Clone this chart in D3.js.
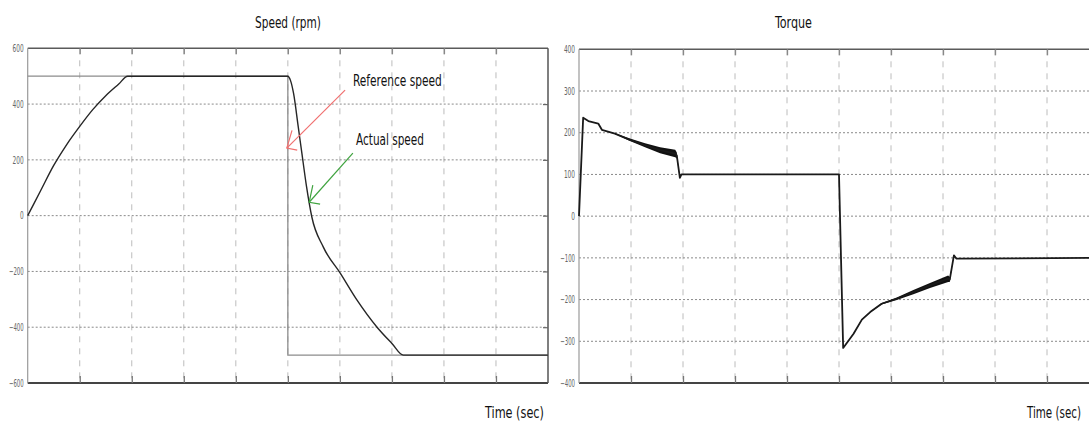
<!DOCTYPE html>
<html>
<head>
<meta charset="utf-8">
<script src="https://cdn.jsdelivr.net/npm/d3@7"></script>
<style>
  body { margin: 0; background: #fff; }
  text { font-family: "Liberation Sans Narrow", "DejaVu Sans Condensed", "Liberation Sans", sans-serif; }
</style>
</head>
<body>
<div id="chart"></div>
<script>
// speed plot data (time in grid units, speed in rpm)
var refTime = [0, 5, 5, 10];
var refSpeed = [500, 500, -500, -500];

var actTime = [0, 0.25, 0.5, 0.75, 1.0, 1.25, 1.5, 1.75, 1.92, 5.0, 5.05, 5.11, 5.2, 5.27, 5.36, 5.46, 5.68, 6.01, 6.33, 6.71, 7.0, 7.22, 10];
var actSpeed = [0, 90, 180, 255, 320, 380, 430, 472, 500, 500, 485, 438, 318, 223, 103, -4, -112, -207, -303, -399, -458, -500, -500];

// torque plot data, band = half width of the ripple
var torqueTime = [0, 0.08, 0.18, 0.37, 0.44, 0.69, 0.98, 1.27, 1.56, 1.85, 1.88, 1.94, 1.97, 2.5, 3, 3.5, 4, 4.5, 5.0, 5.08, 5.28, 5.44, 5.6, 5.82, 6.11, 6.43, 6.75, 7.1, 7.13, 7.21, 7.26, 10];
var torqueValue = [0, 236, 228, 222, 207, 198, 183, 170, 158, 150, 146, 92, 100, 100, 100, 100, 100, 100, 100, -316, -282, -248, -230, -210, -198, -182, -166, -150, -152, -94, -102, -100];
var torqueBand = [0, 0, 0, 0, 0, 1, 3, 5, 7, 9, 7, 0, 0, 0, 0, 0, 0, 0, 0, 0, 0, 1, 1, 2, 3, 5, 6, 8, 6, 0, 0, 0];

var speedTicks = [-600, -400, -200, 0, 200, 400, 600];
var torqueTicks = [-400, -300, -200, -100, 0, 100, 200, 300, 400];
var timeGrid = [1, 2, 3, 4, 5, 6, 7, 8, 9];

// annotations on the speed plot, [t, rpm]
var refArrow = [[6.1, 450], [4.98, 242]];
var refBarbs = [[5.08, 306], [4.98, 242], [5.18, 235]];
var actArrow = [[6.25, 224], [5.41, 48]];
var actBarbs = [[5.48, 109], [5.41, 48], [5.62, 41]];

var width = 1089;
var height = 427;

var svg = d3.select("#chart").append("svg")
    .attr("width", width)
    .attr("height", height);

function zip(xs, ys) {
    return xs.map((x, i) => ({ t: x, v: ys[i] }));
}

// text squeezed horizontally to the width it has in the picture
function label(parent, str, x, y, size, w) {
    var t = parent.append("text")
        .attr("font-size", size + "px")
        .attr("fill", "#111")
        .text(str);
    var len = t.node().getComputedTextLength();
    var k = len > 0 ? w / len : 1;
    t.attr("transform", `translate(${x}, ${y}) scale(${k}, 1)`);
    return t;
}

function drawFrame(g, x, y, yTicks) {
    var w = x.range()[1], h = y.range()[0];

    // vertical dashed grid
    g.selectAll(".vgrid").data(timeGrid).enter().append("line")
        .attr("x1", d => x(d)).attr("x2", d => x(d))
        .attr("y1", 0).attr("y2", h)
        .attr("stroke", "#bcbcbc")
        .attr("stroke-width", 1)
        .attr("stroke-dasharray", "6,6");

    // horizontal dotted grid
    var inner = yTicks.slice(1, -1);
    g.selectAll(".hgrid").data(inner).enter().append("line")
        .attr("x1", 0).attr("x2", w)
        .attr("y1", d => y(d)).attr("y2", d => y(d))
        .attr("stroke", "#8a8a8a")
        .attr("stroke-width", 1)
        .attr("stroke-dasharray", "2,2");

    // borders
    g.append("line").attr("x1", 0).attr("x2", w).attr("y1", 0).attr("y2", 0)
        .attr("stroke", "#5a5a5a").attr("stroke-width", 1.5);
    g.append("line").attr("x1", 0).attr("x2", w).attr("y1", h).attr("y2", h)
        .attr("stroke", "#444").attr("stroke-width", 2);
    g.append("line").attr("x1", 0).attr("x2", 0).attr("y1", 0).attr("y2", h)
        .attr("stroke", "#9a9a9a").attr("stroke-width", 1.2);
    g.append("line").attr("x1", w).attr("x2", w).attr("y1", 0).attr("y2", h)
        .attr("stroke", "#555").attr("stroke-width", 1.5);

    // inner ticks
    g.append("g").attr("transform", `translate(0, ${h})`)
        .call(d3.axisTop(x).tickValues(timeGrid).tickSize(7).tickFormat(""))
        .call(a => a.select(".domain").remove())
        .selectAll("line").attr("stroke", "#777").attr("stroke-width", 1.3);
    g.append("g")
        .call(d3.axisBottom(x).tickValues(timeGrid).tickSize(6).tickFormat(""))
        .call(a => a.select(".domain").remove())
        .selectAll("line").attr("stroke", "#888").attr("stroke-width", 1.3);
    g.append("g").attr("transform", `translate(${w}, 0)`)
        .call(d3.axisLeft(y).tickValues(inner).tickSize(5).tickFormat(""))
        .call(a => a.select(".domain").remove())
        .selectAll("line").attr("stroke", "#666").attr("stroke-width", 1.2);

    // y labels, squeezed like the narrow font of the original
    var yAxis = g.append("g")
        .call(d3.axisLeft(y).tickValues(yTicks).tickSize(0).tickPadding(4).tickFormat(d3.format("d")));
    yAxis.select(".domain").remove();
    yAxis.selectAll("text")
        .attr("font-size", "10px")
        .attr("fill", "#666")
        .attr("textLength", d => String(d).length * 3.7)
        .attr("lengthAdjust", "spacingAndGlyphs");
}

// ---------- speed plot ----------
var speedArea = { left: 27.7, top: 48.3, w: 520.3, h: 334.7 };
var speedGroup = svg.append("g")
    .attr("transform", `translate(${speedArea.left}, ${speedArea.top})`);

var xSpeed = d3.scaleLinear().domain([0, 10]).range([0, speedArea.w]);
var ySpeed = d3.scaleLinear().domain([-600, 600]).range([speedArea.h, 0]);

drawFrame(speedGroup, xSpeed, ySpeed, speedTicks);

speedGroup.append("path")
    .datum(zip(refTime, refSpeed))
    .attr("d", d3.line().x(d => xSpeed(d.t)).y(d => ySpeed(d.v)))
    .attr("fill", "none")
    .attr("stroke", "#8c8c8c")
    .attr("stroke-width", 1.3);

speedGroup.append("path")
    .datum(zip(actTime, actSpeed))
    .attr("d", d3.line().x(d => xSpeed(d.t)).y(d => ySpeed(d.v)).curve(d3.curveMonotoneX))
    .attr("fill", "none")
    .attr("stroke", "#262626")
    .attr("stroke-width", 1.4)
    .attr("stroke-linejoin", "round");

var ptLine = d3.line().x(d => xSpeed(d[0])).y(d => ySpeed(d[1]));

speedGroup.append("path").datum(refArrow).attr("d", ptLine)
    .attr("fill", "none").attr("stroke", "#f07070").attr("stroke-width", 1.2);
speedGroup.append("path").datum(refBarbs).attr("d", ptLine)
    .attr("fill", "none").attr("stroke", "#f07070").attr("stroke-width", 1.2);
speedGroup.append("path").datum(actArrow).attr("d", ptLine)
    .attr("fill", "none").attr("stroke", "#3fa33f").attr("stroke-width", 1.2);
speedGroup.append("path").datum(actBarbs).attr("d", ptLine)
    .attr("fill", "none").attr("stroke", "#3fa33f").attr("stroke-width", 1.2);

label(speedGroup, "Reference speed", xSpeed(6.25), ySpeed(464), 16, 89);
label(speedGroup, "Actual speed", xSpeed(6.31), ySpeed(255), 16, 68);

label(svg, "Speed (rpm)", 255, 28, 15, 66);
label(svg, "Time (sec)", 485, 418, 16, 59);

// ---------- torque plot ----------
var torqueArea = { left: 579, top: 49.3, w: 520, h: 333.7 };
var torqueGroup = svg.append("g")
    .attr("transform", `translate(${torqueArea.left}, ${torqueArea.top})`);

var xTorque = d3.scaleLinear().domain([0, 10]).range([0, torqueArea.w]);
var yTorque = d3.scaleLinear().domain([-400, 400]).range([torqueArea.h, 0]);

drawFrame(torqueGroup, xTorque, yTorque, torqueTicks);

var torqueData = torqueTime.map((t, i) => ({ t: t, v: torqueValue[i], b: torqueBand[i] }));

torqueGroup.append("path")
    .datum(torqueData)
    .attr("d", d3.area().x(d => xTorque(d.t)).y0(d => yTorque(d.v - d.b)).y1(d => yTorque(d.v + d.b)))
    .attr("fill", "#111");

torqueGroup.append("path")
    .datum(torqueData)
    .attr("d", d3.line().x(d => xTorque(d.t)).y(d => yTorque(d.v)))
    .attr("fill", "none")
    .attr("stroke", "#1a1a1a")
    .attr("stroke-width", 1.8)
    .attr("stroke-linejoin", "round");

label(svg, "Torque", 775, 28, 15, 37);
label(svg, "Time (sec)", 1027, 418, 16, 54);
</script>
</body>
</html>
